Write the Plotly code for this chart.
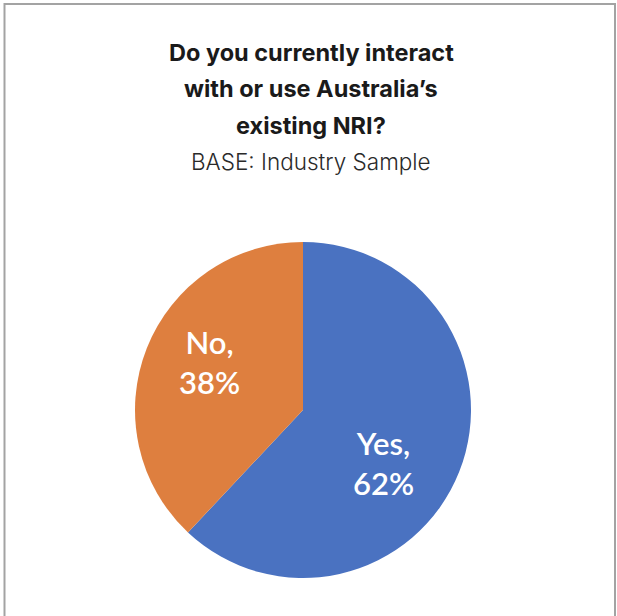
import math
import plotly.graph_objects as go

# Survey answers and their shares
labels = ["Yes", "No"]
shares = [62, 38]
colors = ["#4A72C1", "#DE7F3F"]

title_lines = [
    "Do you currently interact",
    "with or use Australia\u2019s",
    "existing NRI?",
]
subtitle = "BASE: Industry Sample"

W, H = 617, 616
cx, cy, r = 303, 410, 168  # pie centre and radius in pixels (from top-left)

fig = go.Figure(
    go.Pie(
        labels=labels,
        values=shares,
        marker=dict(colors=colors, line=dict(width=0)),
        sort=False,
        direction="clockwise",
        rotation=0,
        textinfo="none",
        hoverinfo="label+percent",
        showlegend=False,
        domain=dict(
            x=[(cx - r) / W, (cx + r) / W],
            y=[(H - cy - r) / H, (H - cy + r) / H],
        ),
    )
)

annotations = []
for i, line in enumerate(title_lines):
    annotations.append(dict(
        text=f"<b>{line}</b>", x=311 / W, y=1 - 53 / H - 36 * i / H,
        xref="paper", yref="paper", xanchor="center", yanchor="middle",
        showarrow=False, font=dict(family="Inter", size=23.5, color="#1a1a1a"),
    ))
annotations.append(dict(
    text=subtitle, x=311 / W, y=1 - 161 / H,
    xref="paper", yref="paper", xanchor="center", yanchor="middle",
    showarrow=False, font=dict(family="Inter", size=22.5, color="#2a2a2a", weight=300),
))

# Slice labels placed along each slice's mid-angle (clockwise from 12 o'clock)
label_radius = [0.576, 0.628]
label_turn = [11.6, 5.5]  # degrees of extra clockwise turn for each label
total = sum(shares)
start = 0.0
for lab, val, rf, turn in zip(labels, shares, label_radius, label_turn):
    mid = (start + val / 2) / total * 360 + turn
    start += val
    px = cx + rf * r * math.sin(math.radians(mid))
    py = cy - rf * r * math.cos(math.radians(mid))
    annotations.append(dict(
        text=f"{lab},<br>{val}%", x=px / W, y=1 - py / H,
        xref="paper", yref="paper", xanchor="center", yanchor="middle",
        showarrow=False, align="center",
        font=dict(family="Lato", size=31, color="white", weight=600),
    ))

fig.update_layout(
    width=W, height=H,
    margin=dict(l=0, r=0, t=0, b=0),
    paper_bgcolor="white", plot_bgcolor="white",
    annotations=annotations,
    shapes=[dict(
        type="rect", xref="paper", yref="paper",
        x0=4.5 / W, x1=615 / W, y0=-0.05, y1=1 - 4 / H,
        line=dict(color="#A3A3A3", width=2), fillcolor="rgba(0,0,0,0)",
    )],
)

fig.write_html("out.html")
